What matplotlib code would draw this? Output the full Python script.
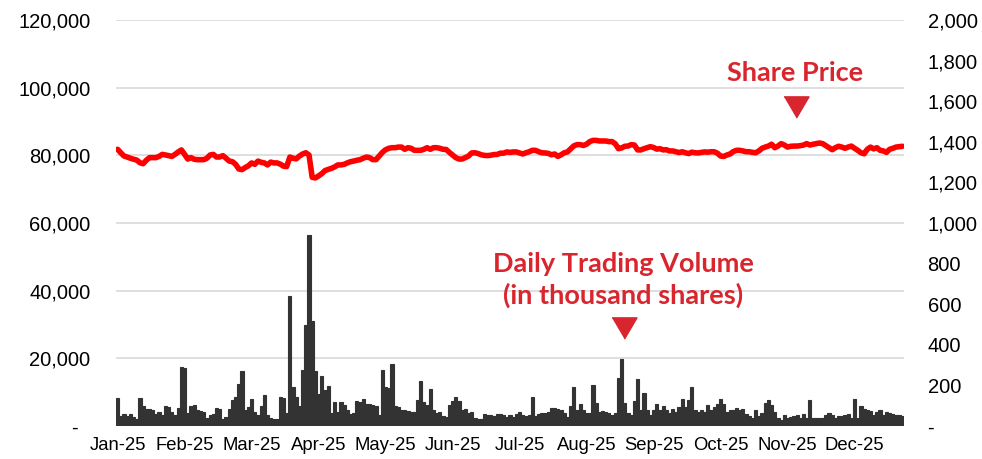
import matplotlib.pyplot as plt
import numpy as np

# daily trading volume (thousand shares), left axis
volume = [
    8300, 2900, 3400, 2900, 3500, 2700, 2100, 8150, 5800, 5100, 5000, 4650,
    3400, 4200, 3200, 5800, 5600, 4100, 3200, 5400, 17400, 17100, 3700, 6000,
    6100, 4850, 4450, 4100, 2500, 3200, 3500, 5300, 5000, 2100, 2700, 5100,
    7800, 8700, 12400, 16300, 4850, 5600, 8000, 4200, 3200, 5800, 9300, 3200,
    2500, 2000, 2000, 8500, 8400, 3900, 38300, 11500, 8500, 5800, 16600, 29900,
    56500, 30900, 16300, 9500, 14900, 10500, 11900, 3700, 7100, 4200, 7100, 6300,
    4850, 3500, 3900, 7400, 7100, 8000, 6400, 6600, 6100, 6000, 3200, 16500,
    11500, 11300, 18200, 6000, 5600, 4650, 4650, 4400, 4200, 4200, 7600, 13200,
    7100, 6100, 11000, 4650, 3700, 4200, 2900, 2700, 6100, 7400, 8500, 7400,
    4650, 5000, 3900, 4100, 2500, 2100, 2200, 3400, 3300, 3200, 3100, 3500,
    3500, 3300, 2700, 3200, 2700, 3400, 4200, 3200, 3100, 3200, 8500, 3000,
    3500, 3800, 3900, 4200, 5300, 5200, 5000, 4850, 3700, 2700, 5800, 11600,
    4850, 6400, 4850, 3900, 3700, 12200, 6800, 4200, 4450, 4200, 3900, 3200,
    3900, 14200, 19900, 6800, 3700, 3200, 7400, 13900, 4650, 9700, 4650, 3200,
    4850, 6400, 4650, 5800, 4650, 3900, 5000, 4200, 5600, 8000, 5600, 7600,
    11500, 4650, 4200, 4850, 4100, 6100, 4650, 5600, 6600, 8000, 6400, 4200,
    4850, 4650, 5400, 4850, 5100, 3500, 2900, 2500, 4850, 2900, 3700, 6800,
    7600, 6100, 4200, 2500, 1900, 3200, 2500, 2700, 3000, 3200, 2300, 3500,
    2300, 7600, 2300, 2300, 2500, 2500, 3200, 3700, 3200, 2500, 2900, 3100,
    3300, 3500, 2500, 8000, 2500, 5800, 5100, 4850, 4450, 3200, 4200, 4850,
    3200, 4200, 3700, 3500, 3200, 3200, 2900,
]

# share price, right axis
price = [
    1363, 1346, 1330, 1325, 1319, 1314, 1310, 1297, 1292, 1309, 1322, 1322,
    1322, 1328, 1338, 1335, 1332, 1328, 1338, 1350, 1360, 1338, 1315, 1322,
    1314, 1312, 1312, 1312, 1319, 1335, 1338, 1325, 1325, 1332, 1319, 1305,
    1302, 1289, 1266, 1263, 1273, 1282, 1296, 1289, 1305, 1299, 1296, 1286,
    1300, 1296, 1296, 1290, 1280, 1278, 1325, 1319, 1316, 1330, 1340, 1346,
    1335, 1225, 1222, 1232, 1243, 1258, 1264, 1269, 1276, 1286, 1286, 1289,
    1296, 1302, 1305, 1309, 1312, 1319, 1325, 1322, 1312, 1312, 1330, 1348,
    1361, 1368, 1371, 1371, 1374, 1374, 1363, 1371, 1368, 1358, 1358, 1358,
    1363, 1371, 1363, 1371, 1371, 1368, 1363, 1362, 1348, 1335, 1322, 1315,
    1315, 1322, 1330, 1345, 1346, 1342, 1336, 1333, 1332, 1334, 1337, 1338,
    1344, 1344, 1350, 1348, 1350, 1350, 1345, 1340, 1346, 1351, 1358, 1358,
    1351, 1346, 1345, 1343, 1336, 1340, 1328, 1336, 1346, 1350, 1365, 1380,
    1386, 1386, 1382, 1388, 1401, 1407, 1407, 1404, 1404, 1404, 1401, 1401,
    1390, 1366, 1370, 1378, 1379, 1386, 1384, 1360, 1360, 1366, 1371, 1376,
    1372, 1364, 1366, 1360, 1361, 1355, 1355, 1351, 1347, 1351, 1346, 1342,
    1349, 1346, 1345, 1348, 1350, 1349, 1351, 1351, 1344, 1330, 1328, 1335,
    1340, 1352, 1358, 1358, 1355, 1351, 1351, 1348, 1346, 1355, 1368, 1374,
    1379, 1388, 1371, 1379, 1391, 1384, 1374, 1378, 1379, 1379, 1381, 1384,
    1391, 1384, 1388, 1391, 1394, 1391, 1381, 1371, 1361, 1371, 1378, 1374,
    1368, 1374, 1379, 1368, 1358, 1346, 1341, 1363, 1374, 1365, 1371, 1358,
    1355, 1348, 1363, 1368, 1374, 1376, 1378,
]

month_labels = ["Jan-25", "Feb-25", "Mar-25", "Apr-25", "May-25", "Jun-25",
                "Jul-25", "Aug-25", "Sep-25", "Oct-25", "Nov-25", "Dec-25"]
label_step = 21

W, H = 982, 459
red_text = "#D9262E"

plt.rcParams["font.family"] = ["Liberation Sans", "DejaVu Sans"]

fig = plt.figure(figsize=(W / 100, H / 100), dpi=100)
ax = fig.add_axes([116 / W, 1 - 426 / H, (904 - 116) / W, (426 - 20) / H])
ax2 = ax.twinx()

x = np.arange(len(volume))
ax.bar(x, volume, width=1.0, color="#333333", edgecolor="#333333",
       linewidth=0.8, zorder=2)
ax2.plot(np.arange(len(price)), price, color="#FF0000", lw=4,
         solid_joinstyle="round", solid_capstyle="round")

ax.set_xlim(-0.5, len(volume) - 0.5)
ax.set_ylim(0, 120000)
ax2.set_ylim(0, 2000)

left_ticks = np.arange(0, 120001, 20000)
ax.set_yticks(left_ticks)
ax.set_yticklabels(["-  " if v == 0 else f"{v:,}" for v in left_ticks])
right_ticks = np.arange(0, 2001, 200)
ax2.set_yticks(right_ticks)
ax2.set_yticklabels(["-" if v == 0 else f"{v:,}" for v in right_ticks])

ax.set_xticks(np.arange(len(month_labels)) * label_step)
ax.set_xticklabels(month_labels)

ax.yaxis.grid(True, color="#D9D9D9", lw=1.2)
ax.set_axisbelow(True)
for a in (ax, ax2):
    for s in a.spines.values():
        s.set_visible(False)
ax.tick_params(axis="y", length=0, pad=18.5, labelsize=14.5, labelcolor="#000000")
ax.tick_params(axis="x", length=0, pad=8, labelsize=13.3)
ax2.tick_params(axis="y", length=0, pad=17, labelsize=14.5)

# annotations
fig.text(795 / W, 1 - 73 / H, "Share Price", color=red_text, fontsize=19.5,
         fontweight="bold", family="Lato", ha="center", va="center")
fig.text(623 / W, 1 - 280 / H, "Daily Trading Volume\n(in thousand shares)",
         color=red_text, fontsize=19.5, fontweight="bold", family="Lato",
         ha="center", va="center", linespacing=1.3)
tri = [(-1, 0.85), (1, 0.85), (0, -0.85)]
ax.plot([795.5 / W], [1 - 107 / H], marker=tri, markersize=18, color=red_text,
        transform=fig.transFigure, clip_on=False, linestyle="none")
ax.plot([624 / W], [1 - 328 / H], marker=tri, markersize=18, color=red_text,
        transform=fig.transFigure, clip_on=False, linestyle="none")

fig.savefig("out.png", dpi=100)
